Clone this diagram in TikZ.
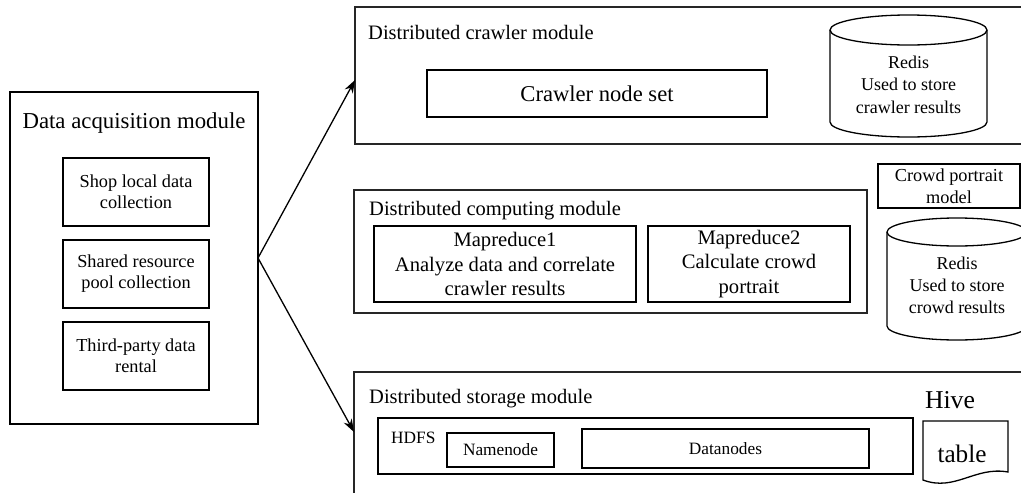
\documentclass[tikz,border=0pt]{standalone}
\usepackage{fontspec}
\setmainfont{Liberation Serif}
\usetikzlibrary{arrows.meta}
\newcommand\myfs[2]{\fontsize{#1pt}{#2pt}\selectfont}
\begin{document}
\begin{tikzpicture}[x=1pt,y=-1pt,
  box/.style={draw, line width=1.3pt, inner sep=0pt, outer sep=0pt},
  modbox/.style={draw=black!85, line width=1.4pt, inner sep=0pt, outer sep=0pt},
  title/.style={anchor=base west, inner sep=0pt, font=\myfs{20.5}{24}},
  lbl/.style={align=center, inner sep=0pt},
  arr/.style={line width=1.3pt, -{Stealth[length=13pt,width=9pt]}},
  shape line/.style={line width=1.3pt}
]
\useasboundingbox (0,0) rectangle (1021,493);
\clip (0,0) rectangle (1021,493);
\fill[white] (0,0) rectangle (1021,493);

% Data acquisition module
\node[box, minimum width=248pt, minimum height=332pt] (acq) at (134,258) {};
\node[anchor=base, inner sep=0pt, font=\myfs{22.8}{26}] (acqt) at (134,128) {Data acquisition module};
\node[box, minimum width=146pt, minimum height=68pt, lbl, font=\myfs{18.3}{21}] (shop) at (136,192) {Shop local data\\collection};
\node[box, minimum width=146pt, minimum height=68pt, lbl, font=\myfs{18.3}{21}] (pool) at (136,274) {Shared resource\\pool collection};
\node[box, minimum width=146pt, minimum height=68pt, lbl, font=\myfs{18.3}{21}] (third) at (136,356) {Third-party data\\rental};

% Distributed crawler module
\node[modbox, minimum width=700pt, minimum height=137pt] (crawl) at (705,75.5) {};
\node[title] (crawlt) at (368,39) {Distributed crawler module};
\node[box, minimum width=340pt, minimum height=47pt, font=\myfs{22.6}{26}] (cns) at (597,93.5) {Crawler node set};
\draw[shape line] (830,30) -- (830,122) .. controls (830,130.3) and (865.1,137) .. (908.5,137)
  .. controls (951.9,137) and (987,130.3) .. (987,122) -- (987,30);
\draw[shape line] (908.5,30) ellipse [x radius=78.5pt, y radius=15pt];
\node[lbl, font=\myfs{18}{22.5}] (redis1) at (908.5,84.5) {Redis\\Used to store\\crawler results};

% Distributed computing module
\node[modbox, minimum width=513pt, minimum height=123pt] (comp) at (610.5,251.5) {};
\node[title] (compt) at (369,215) {Distributed computing module};
\node[box, minimum width=262pt, minimum height=76pt, lbl, font=\myfs{20.6}{24.5}] (mr1) at (505,264) {Mapreduce1\\Analyze data and correlate\\crawler results};
\node[box, minimum width=202pt, minimum height=76pt, lbl, font=\myfs{20.6}{24.5}] (mr2) at (749,264) {Mapreduce2\\Calculate crowd\\portrait};
\node[box, minimum width=142pt, minimum height=44pt, lbl, font=\myfs{18.3}{22}] (cpm) at (949,186) {Crowd portrait\\model};
\draw[shape line] (887,232) -- (887,326) .. controls (887,333.7) and (918.3,340) .. (957,340)
  .. controls (995.7,340) and (1027,333.7) .. (1027,326) -- (1027,232);
\draw[shape line] (957,232) ellipse [x radius=70pt, y radius=14pt];
\node[lbl, font=\myfs{18}{22}] (redis2) at (957,285) {Redis\\Used to store\\crowd results};

% Distributed storage module
\node[modbox, minimum width=700pt, minimum height=140pt] (stor) at (704,442) {};
\node[title] (stort) at (369,403) {Distributed storage module};
\node[box, minimum width=535pt, minimum height=56pt] (hdfs) at (645.5,446) {};
\node[anchor=base west, inner sep=0pt, font=\myfs{17.3}{20}] (hdfst) at (391,443) {HDFS};
\node[box, minimum width=107pt, minimum height=34pt, font=\myfs{17.3}{20}] (nn) at (500.5,450) {Namenode};
\node[box, minimum width=287pt, minimum height=39pt, font=\myfs{17.3}{20}] (dn) at (725.5,448.5) {Datanodes};
\node[anchor=base, inner sep=0pt, font=\myfs{25.7}{28}] (hive) at (950,408) {Hive};
\draw[shape line] (923,421) -- (1008,421) -- (1008,472)
  .. controls (975,466) and (955,492) .. (923,480) -- cycle;
\node[anchor=base, inner sep=0pt, font=\myfs{25.2}{28}] (table) at (962,462) {table};

% connectors
\coordinate (t1) at (355,80);
\coordinate (t2) at (354,432);
\draw[arr] (acq.east) -- (t1);
\draw[arr] (acq.east) -- (t2);
\end{tikzpicture}
\end{document}
